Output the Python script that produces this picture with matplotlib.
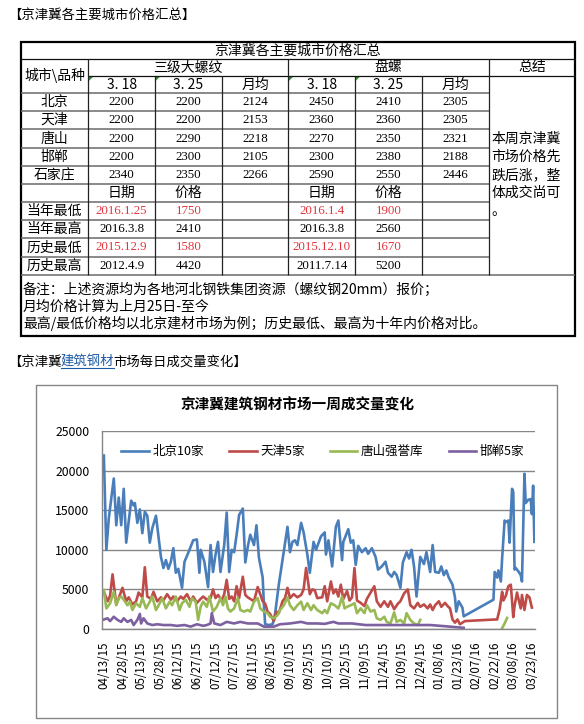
import numpy as np
import pandas as pd
import matplotlib
matplotlib.use('Agg')
import matplotlib.pyplot as plt
import matplotlib.dates as mdates
from matplotlib.patches import Rectangle, Polygon

plt.rcParams['font.family'] = ['Noto Sans CJK SC', 'DejaVu Sans']

W, H = 584, 724
START = pd.Timestamp('2015-04-13')
NUMFONT = 'Liberation Serif'
RED = '#e0353c'

# ---------------- table data ----------------
cities = ['北京', '天津', '唐山', '邯郸', '石家庄']
rebar_318 = [2200, 2200, 2200, 2200, 2340]
rebar_325 = [2200, 2200, 2290, 2300, 2350]
rebar_avg = [2124, 2153, 2218, 2105, 2266]
coil_318 = [2450, 2360, 2270, 2300, 2590]
coil_325 = [2410, 2360, 2350, 2380, 2550]
coil_avg = [2305, 2305, 2321, 2188, 2446]
ext_labels = ['当年最低', '当年最高', '历史最低', '历史最高']
rebar_ext_date = ['2016.1.25', '2016.3.8', '2015.12.9', '2012.4.9']
rebar_ext_price = [1750, 2410, 1580, 4420]
coil_ext_date = ['2016.1.4', '2016.3.8', '2015.12.10', '2011.7.14']
coil_ext_price = [1900, 2560, 1670, 5200]
ext_is_low = [True, False, True, False]
summary_lines = ['本周京津冀', '市场价格先', '跌后涨，整', '体成交尚可', '。']
note_lines = ['备注：上述资源均为各地河北钢铁集团资源（螺纹钢20mm）报价；',
              '月均价格计算为上月25日-至今',
              '最高/最低价格均以北京建材市场为例；历史最低、最高为十年内价格对比。']

# ---------------- chart data (days since 2015-04-13) ----------------
bj_days = [0, 2, 4, 8, 10, 12, 14, 16, 18, 22, 24, 25, 27, 29, 31, 33, 35, 37, 39, 42,
           46, 48, 50, 52, 54, 56, 58, 60, 63, 65, 68, 70, 72, 75, 77, 78, 81, 84, 86, 88,
           90, 92, 94, 97, 99, 101, 103, 105, 107, 109, 112, 114, 116, 118, 121, 123, 125, 128, 129, 130,
           133, 136, 138, 141, 148, 150, 152, 154, 156, 159, 161, 164, 166, 169, 171, 175, 178, 179, 181, 184,
           186, 187, 189, 192, 193, 196, 197, 199, 201, 203, 205, 208, 211, 213, 216, 219, 221, 224, 227, 229,
           232, 234, 236, 239, 241, 244, 246, 248, 250, 252, 255, 258, 260, 263, 265, 267, 270, 272, 274, 276,
           278, 281, 283, 284, 286, 289, 290, 314, 315, 317, 318, 320, 321, 323, 324, 326, 327, 329, 330, 331,
           332, 334, 336, 337, 339, 340, 342, 344, 345, 346, 347]
bj_vals = [21900, 10000, 14000, 19000, 13100, 16600, 13100, 17700, 10900, 16200, 15600, 15900, 13400, 15100, 12100, 14800, 14300, 10900, 12700, 14300,
           9100, 7700, 8700, 7600, 8500, 10200, 7100, 7600, 5200, 8500, 9600, 10400, 11200, 11300, 7100, 10000, 8500, 5300, 10600, 7200,
           9400, 11000, 7200, 10600, 14700, 7200, 10000, 9700, 11900, 14400, 15200, 8400, 10400, 11900, 10600, 13100, 9000, 6500, 3100, 600,
           500, 600, 1900, 5600, 12900, 9700, 11000, 11200, 10600, 13400, 12200, 9400, 7100, 11000, 10000, 11700, 12200, 9400, 11200, 7900,
           11200, 12900, 13700, 8700, 11000, 12200, 12600, 10900, 11200, 8100, 10500, 9700, 10200, 9500, 10200, 9100, 7500, 7900, 8500, 7100,
           6600, 7200, 6800, 5200, 8400, 9700, 8900, 10000, 7900, 4100, 9100, 8200, 9700, 7200, 10600, 7200, 7100, 7900, 6800, 7400,
           6500, 5600, 4000, 2200, 3500, 2700, 1600, 3700, 7200, 6500, 7400, 6000, 8900, 13700, 13500, 13700, 10900, 17700, 17300, 7500,
           7700, 7300, 6800, 6000, 19600, 15900, 16300, 16400, 14500, 18100, 11000]

tj_days = [0, 3, 5, 7, 10, 12, 15, 18, 20, 23, 26, 28, 31, 33, 35, 38, 40, 43, 46, 48,
           51, 54, 56, 59, 62, 64, 67, 70, 72, 75, 78, 80, 83, 86, 88, 90, 92, 95, 97, 99,
           101, 103, 105, 107, 109, 112, 114, 116, 118, 121, 124, 126, 128, 130, 132, 134, 137, 139, 141, 144,
           146, 148, 150, 153, 156, 159, 161, 163, 166, 168, 170, 172, 176, 178, 180, 183, 185, 187, 189, 191,
           193, 196, 198, 200, 202, 204, 207, 210, 212, 215, 218, 220, 223, 226, 229, 231, 234, 237, 239, 242,
           245, 247, 250, 253, 255, 258, 261, 263, 265, 267, 270, 272, 275, 277, 279, 281, 283, 285, 287, 289,
           291, 315, 317, 319, 321, 322, 324, 326, 328, 330, 331, 333, 336, 337, 339, 341, 343, 345]
tj_vals = [4700, 3500, 4200, 6900, 3100, 3900, 5200, 3500, 4000, 3100, 3500, 4600, 4000, 7800, 4100, 3800, 4700, 3500, 4000, 3600,
           4400, 3700, 4100, 3500, 4100, 3800, 4400, 3500, 4100, 3300, 3800, 4100, 3700, 3900, 5000, 3900, 4300, 3600, 4400, 6200,
           3800, 4100, 3500, 5400, 3900, 6600, 4300, 4000, 3800, 3500, 5300, 4400, 3500, 3200, 2200, 1900, 1000, 2200, 2000, 3500,
           3900, 5200, 3900, 4400, 4000, 4300, 5000, 7700, 4400, 5000, 4900, 3900, 4000, 5400, 3500, 6000, 4500, 5000, 4100, 5600,
           3800, 4800, 3600, 4000, 7700, 3600, 3300, 2900, 3800, 4600, 5400, 3500, 2800, 3500, 2800, 3500, 2500, 3200, 3500, 4500,
           5000, 3000, 2600, 3300, 2800, 3100, 2600, 3100, 2400, 3000, 3500, 2800, 3300, 2900, 2600, 1200, 800, 1200, 600, 800,
           1000, 1200, 1200, 2500, 4700, 3600, 4200, 5400, 5600, 1500, 2900, 4600, 2600, 4300, 2400, 4300, 4000, 2700]

ts_days = [0, 2, 5, 8, 10, 12, 14, 16, 19, 21, 23, 26, 29, 31, 34, 37, 39, 42, 45, 47,
           50, 53, 55, 58, 61, 63, 66, 69, 71, 74, 76, 78, 80, 83, 85, 86, 88, 91, 94, 96,
           98, 100, 102, 105, 108, 110, 113, 116, 118, 121, 124, 126, 129, 132, 134, 137, 140, 142, 145, 148,
           150, 153, 156, 159, 161, 164, 167, 169, 172, 176, 178, 180, 183, 186, 189, 190, 192, 194, 196, 199,
           202, 204, 207, 210, 212, 215, 218, 220, 223, 226, 228, 231, 234, 236, 239, 242, 244, 247, 250, 253,
           255]
ts_vals = [4900, 2600, 3250, 4700, 3000, 3900, 4100, 3700, 3000, 3450, 2400, 3250, 2800, 3900, 2600, 3450, 4100, 2400, 3250, 3900,
           2600, 3450, 3000, 4100, 2400, 3250, 3700, 2800, 3900, 3450, 1150, 2800, 3450, 2800, 4100, 3450, 2200, 2800, 3900, 3000,
           4100, 2600, 2200, 2600, 3900, 2400, 2200, 2400, 2200, 3450, 3900, 2600, 2200, 2000, 1550, 1350, 1750, 2400, 3000, 4000,
           3000, 2400, 3000, 3450, 2400, 3250, 2400, 3000, 2400, 2000, 2400, 2000, 3250, 3000, 2600, 3000, 4100, 2600, 2800, 3000,
           3250, 2000, 2600, 2000, 3000, 2200, 2400, 1350, 1150, 1550, 900, 700, 2100, 900, 1150, 700, 2000, 1150, 700, 500,
           1150]
ts_late_days = [321, 323, 325]
ts_late_vals = [100, 700, 1400]

hd_days = [0, 3, 5, 8, 11, 14, 16, 19, 22, 24, 27, 29, 30, 32, 35, 39, 43, 48, 54, 59,
           65, 70, 75, 80, 83, 86, 87, 89, 94, 99, 105, 110, 116, 124, 129, 137, 142, 150, 159, 164,
           172, 178, 185, 189, 193, 200, 211, 224, 237, 250, 263, 275, 290]
hd_vals = [1200, 1350, 1000, 1550, 1150, 900, 1350, 900, 1150, 500, 1150, 1900, 700, 1350, 700, 500, 600, 500, 500, 400,
           500, 300, 600, 400, 500, 700, 2000, 700, 500, 900, 700, 900, 700, 700, 300, 300, 600, 700, 900, 700,
           700, 650, 900, 700, 700, 700, 500, 500, 500, 500, 500, 350, 150]

series_names = ['北京10家', '天津5家', '唐山强誉库', '邯郸5家']
series_colors = ['#4a7ebb', '#be4b48', '#98b954', '#7d60a0']


def to_dates(days):
    return START + pd.to_timedelta(days, unit='D')


fig = plt.figure(figsize=(W / 100, H / 100), dpi=100)
fig.patch.set_facecolor('white')

# overlay in pixel coordinates for the table and page text
pg = fig.add_axes([0, 0, 1, 1])
pg.set_xlim(0, W)
pg.set_ylim(H, 0)
pg.axis('off')


def cjk(x, y, s, size=10, ha='center', color='black', **kw):
    return pg.text(x, y, s, fontsize=size, ha=ha, va='center', color=color, **kw)


def num(x, y, s, color='black', size=9.3):
    pg.text(x, y, s, fontsize=size, ha='center', va='center', color=color,
            family=NUMFONT)


def hline(y, x0, x1, lw=0.9, color='#333333'):
    pg.plot([x0, x1], [y, y], color=color, lw=lw, solid_capstyle='butt')


def vline(x, y0, y1, lw=0.9, color='#222222'):
    pg.plot([x, x], [y0, y1], color=color, lw=lw, solid_capstyle='butt')


# section header 1
cjk(8, 15, '【京津冀各主要城市价格汇总】', size=9.6, ha='left')

cols = [20.7, 88.3, 155, 221.7, 288.3, 355, 421.7, 489, 575]
rows = [41.7, 59, 76, 92.7, 111, 129.3, 147.7, 166, 184.3, 202.3, 220, 238.3, 256.7, 275, 336]
ccen = [(cols[i] + cols[i + 1]) / 2 for i in range(len(cols) - 1)]
rcen = [(rows[i] + rows[i + 1]) / 2 for i in range(len(rows) - 1)]

# grid lines
hline(rows[1], cols[0], cols[-1], color='#111111')
hline(rows[2], cols[1], cols[-1], color='#111111')
for r in rows[3:13]:
    hline(r, cols[0], cols[7], lw=1.1, color='#6a6a6a')
hline(rows[13], cols[0], cols[-1], lw=1.1, color='#6a6a6a')
for c in [cols[1], cols[4], cols[7]]:
    vline(c, rows[1], rows[13])
for c in [cols[2], cols[3], cols[5], cols[6]]:
    vline(c, rows[2], rows[13])
pg.add_patch(Rectangle((cols[0], rows[0]), cols[-1] - cols[0], rows[-1] - rows[0],
                       fill=False, lw=1.6, edgecolor='black'))

# header texts
cjk((cols[0] + cols[-1]) / 2, rcen[0], '京津冀各主要城市价格汇总')
cjk(ccen[0], (rows[1] + rows[3]) / 2, '城市\\品种')
cjk((cols[1] + cols[4]) / 2, rcen[1], '三级大螺纹')
cjk((cols[4] + cols[7]) / 2, rcen[1], '盘螺')
cjk(ccen[7], rcen[1], '总结')
for k, s in enumerate(['3. 18', '3. 25', '月均', '3. 18', '3. 25', '月均']):
    cjk(ccen[k + 1], rcen[2] + 1, s)
for c in [cols[1], cols[2], cols[4], cols[5]]:
    pg.add_patch(Polygon([(c + 0.6, rows[2] + 0.6), (c + 5, rows[2] + 0.6), (c + 0.6, rows[2] + 5)],
                         closed=True, color='#2f8f2f', lw=0))

# city price rows
for i, city in enumerate(cities):
    y = rcen[3 + i]
    cjk(ccen[0], y, city)
    for k, arr in enumerate([rebar_318, rebar_325, rebar_avg, coil_318, coil_325, coil_avg]):
        num(ccen[k + 1], y, str(arr[i]))

# extremes
cjk(ccen[1], rcen[8], '日期')
cjk(ccen[2], rcen[8], '价格')
cjk(ccen[4], rcen[8], '日期')
cjk(ccen[5], rcen[8], '价格')
for i, lab in enumerate(ext_labels):
    y = rcen[9 + i]
    col = RED if ext_is_low[i] else 'black'
    cjk(ccen[0], y, lab)
    num(ccen[1], y, rebar_ext_date[i], color=col)
    num(ccen[2], y, str(rebar_ext_price[i]), color=col)
    num(ccen[4], y, coil_ext_date[i], color=col)
    num(ccen[5], y, str(coil_ext_price[i]), color=col)

# summary column
for j, s in enumerate(summary_lines):
    cjk(491.5, 139 + 18 * j, s, ha='left')

# notes
for j, s in enumerate(note_lines):
    cjk(23, 290 + 16.8 * j, s, ha='left')

# section header 2 with a link-styled word
t1 = pg.text(8, 362, '【京津冀', fontsize=9.6, ha='left', va='center')
t2 = pg.annotate('建筑钢材', xy=(1, 0), xycoords=t1, xytext=(-0.6, 0),
                 textcoords='offset points', ha='left', va='bottom',
                 fontsize=9.6, color='#1f5aa6')
t3 = pg.annotate('市场每日成交量变化】', xy=(1, 0), xycoords=t2, xytext=(-0.6, 0),
                 textcoords='offset points', ha='left', va='bottom', fontsize=9.6)

# chart frame and title
pg.add_patch(Rectangle((36, 385), 557 - 36, 718 - 385, fill=False, lw=1.0, edgecolor='#868686'))
pg.text(297, 405, '京津冀建筑钢材市场一周成交量变化', fontsize=10.5, fontweight='bold',
        ha='center', va='center')

# ---------------- line chart ----------------
px0, px1, py0, py1 = 102, 535, 431, 629
ax = fig.add_axes([px0 / W, 1 - py1 / H, (px1 - px0) / W, (py1 - py0) / H])
ax.set_facecolor('none')
series = [(bj_days, bj_vals), (tj_days, tj_vals), (ts_days, ts_vals), (hd_days, hd_vals)]
for (d, v), name, c in zip(series, series_names, series_colors):
    ax.plot(to_dates(d), v, color=c, lw=1.9, label=name, solid_joinstyle='round')
ax.plot(to_dates(ts_late_days), ts_late_vals, color=series_colors[2], lw=1.9)

ax.set_ylim(0, 25000)
ax.set_yticks(range(0, 25001, 5000))
ax.grid(axis='y', color='#868686', lw=1.0)
ax.set_axisbelow(True)
ticks = pd.date_range(START, '2016-03-23', freq='15D')
ax.set_xticks(ticks)
ax.set_xticklabels([t.strftime('%m/%d/%y') for t in ticks], rotation=90, fontsize=8.3)
ax.set_xlim(START - pd.Timedelta(days=1.5), START + pd.Timedelta(days=347.5))
ax.tick_params(axis='both', length=0)
ax.tick_params(axis='x', pad=9)
ax.tick_params(axis='y', pad=9, labelsize=8.8)
for s in ['top', 'right']:
    ax.spines[s].set_visible(False)
for s in ['left', 'bottom']:
    ax.spines[s].set_color('#868686')
    ax.spines[s].set_linewidth(1.0)

ax.legend(loc='center', bbox_to_anchor=(0.51, 0.895), ncol=4, frameon=False,
          fontsize=9, handlelength=2.2, handletextpad=0.3, columnspacing=2.0, borderpad=0)

# underline for the link word
fig.canvas.draw()
bb = t2.get_window_extent()
pg.plot([bb.x0, bb.x1], [H - bb.y0 - 1, H - bb.y0 - 1], color='#1f5aa6', lw=0.8)

fig.savefig('out.png', dpi=100)
